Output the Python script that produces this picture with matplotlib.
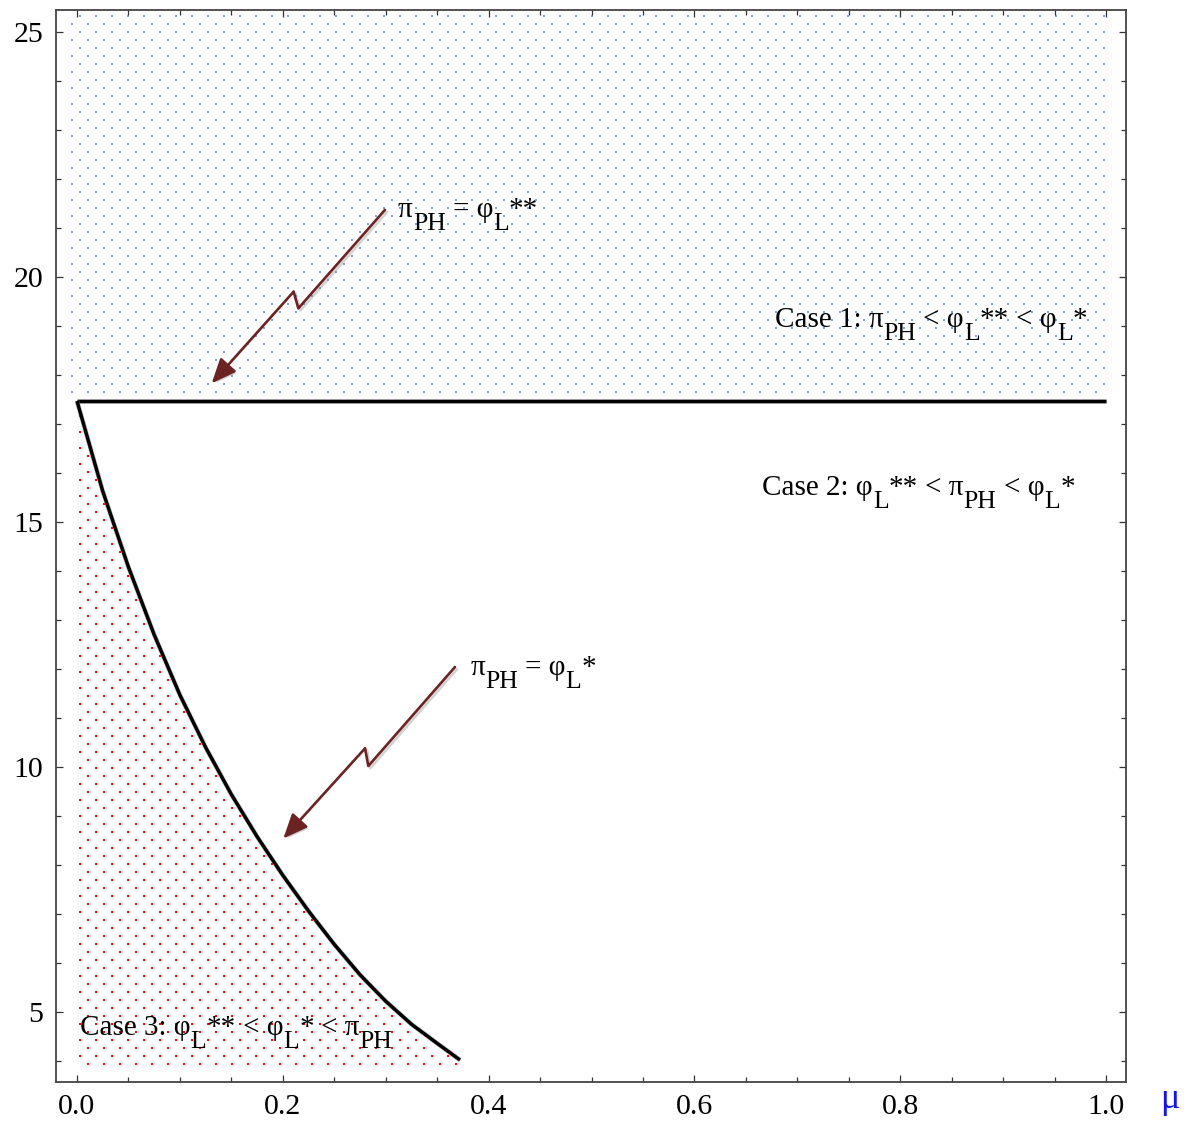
import numpy as np
import matplotlib
matplotlib.use('Agg')
import matplotlib.pyplot as plt
from matplotlib import patheffects as pe
from matplotlib.ticker import MultipleLocator, FixedLocator
from matplotlib.transforms import offset_copy

plt.rcParams['font.family'] = ['Liberation Serif', 'DejaVu Serif']
plt.rcParams['mathtext.fontset'] = 'custom'
plt.rcParams['mathtext.rm'] = 'Liberation Serif'

# ---------------- data ----------------
boundary_mu = [0.0, 1.0]                 # pi_PH = phi_L**  (horizontal)
boundary_val = [17.47, 17.47]

curve_mu = [0.0, 0.025, 0.05, 0.075, 0.1, 0.125, 0.15, 0.175, 0.2, 0.225,
            0.25, 0.275, 0.3, 0.325, 0.35, 0.3722]
curve_val = [17.47, 15.63, 14.08, 12.70, 11.47, 10.40, 9.44, 8.58, 7.79, 7.06,
             6.38, 5.76, 5.22, 4.75, 4.36, 4.02]

arrow1_mu = [0.2993, 0.2151, 0.2105, 0.1309]
arrow1_val = [21.37, 19.36, 19.70, 17.83]
arrow2_mu = [0.3673, 0.2831, 0.2799, 0.2005]
arrow2_val = [12.04, 10.02, 10.38, 8.54]

xticks = [0.0, 0.2, 0.4, 0.6, 0.8, 1.0]
xtick_labels = ['0.0', '0.2', '0.4', '0.6', '0.8', '1.0']
yticks = [5, 10, 15, 20, 25]
ytick_labels = ['5', '10', '15', '20', '25']
xlim = (-0.0204, 1.0194)
ylim = (3.571, 25.449)

label_eq2 = [('π', 0), ('PH', 1), (' = φ', 0), ('L', 1), ('**', 0)]
label_eq1 = [('π', 0), ('PH', 1), (' = φ', 0), ('L', 1), ('*', 0)]
label_case1 = [('Case 1: π', 0), ('PH', 1), (' < φ', 0), ('L', 1), ('**', 0),
               (' < φ', 0), ('L', 1), ('*', 0)]
label_case2 = [('Case 2: φ', 0), ('L', 1), ('**', 0), (' < π', 0), ('PH', 1),
               (' < φ', 0), ('L', 1), ('*', 0)]
label_case3 = [('Case 3: φ', 0), ('L', 1), ('**', 0), (' < φ', 0), ('L', 1),
               ('*', 0), (' < π', 0), ('PH', 1)]

# ---------------- figure ----------------
W, H, DPI = 1190, 1127, 100
fig = plt.figure(figsize=(W / DPI, H / DPI), dpi=DPI)
ax_rect = [56 / W, 45 / H, 1070 / W, 1072 / H]
ax = fig.add_axes(ax_rect)
ax.set_xlim(*xlim)
ax.set_ylim(*ylim)

# dot textures (16 px column spacing, 8 px row spacing, staggered rows)
ax_w_px = ax_rect[2] * W
ax_h_px = ax_rect[3] * H
dx = 16 * (xlim[1] - xlim[0]) / ax_w_px
dy = 8 * (ylim[1] - ylim[0]) / ax_h_px
rows = np.arange(ylim[0] + 0.3 * dy, ylim[1], dy)
gx, gy = [], []
for i, yv in enumerate(rows):
    xs = np.arange(xlim[0] + (i % 2) * dx / 2, xlim[1], dx)
    gx.append(xs)
    gy.append(np.full_like(xs, yv))
gx = np.concatenate(gx)
gy = np.concatenate(gy)

cm = np.array(curve_mu)
cv = np.array(curve_val)
blue_mask = (gx >= -0.006) & (gx <= 1.0) & (gy > boundary_val[0] + 0.08)
curve_at = np.interp(gx, cm, cv, left=np.nan, right=-np.inf)
red_mask = (gx >= -0.006) & (gx <= cm[-1]) & (gy < curve_at - 0.08) & (gy > 3.8)
ax.scatter(gx[blue_mask], gy[blue_mask], s=1.9, marker='s', color='#80a4e2',
           linewidths=0, zorder=1)
ax.scatter(gx[red_mask], gy[red_mask], s=2.6, marker='s', color='#ff0000',
           linewidths=0, zorder=1)

# boundary lines
line_fx = [pe.Stroke(linewidth=3.4, foreground='0.55', alpha=0.5), pe.Normal()]
ax.plot(boundary_mu, boundary_val, color='black', lw=2.5, zorder=3,
        solid_capstyle='butt', path_effects=line_fx)
ax.plot(curve_mu, curve_val, color='black', lw=2.5, zorder=3,
        solid_capstyle='butt', solid_joinstyle='round', path_effects=line_fx)

# lightning arrows
arrow_col = '#6b2323'
shadow = [pe.SimpleLineShadow(offset=(1.5, -1.5), shadow_color='0.5', alpha=0.35),
          pe.Normal()]
for am, av in [(arrow1_mu, arrow1_val), (arrow2_mu, arrow2_val)]:
    ax.plot(am[:3], av[:3], color=arrow_col, lw=1.9, zorder=4,
            solid_joinstyle='round', solid_capstyle='round', path_effects=shadow)
    ax.annotate('', xy=(am[3], av[3]), xytext=(am[2], av[2]), zorder=4,
                arrowprops=dict(arrowstyle='-|>,head_length=0.75,head_width=0.32',
                                mutation_scale=20, color=arrow_col, lw=1.9,
                                shrinkA=0, shrinkB=0,
                                path_effects=[pe.withSimplePatchShadow(
                                    offset=(1.5, -1.5), shadow_rgbFace='0.5',
                                    alpha=0.35)]))

# rich text with sizable subscripts
renderer = fig.canvas.get_renderer()
MAIN, SUB, DROP = 21, 18.5, -9.5


def advance(s, size):
    t1 = fig.text(0, 0, '|' + s + '|', fontsize=size)
    t2 = fig.text(0, 0, '||', fontsize=size)
    w = t1.get_window_extent(renderer).width - t2.get_window_extent(renderer).width
    t1.remove()
    t2.remove()
    return w * 72.0 / fig.dpi


def rich(x, y, pieces):
    off = 0.0
    for s, sub in pieces:
        size = SUB if sub else MAIN
        shift = DROP if sub else 0.0
        lead = len(s) - len(s.lstrip(' '))
        lead_adv = advance(' ' * lead, size) if lead else 0.0
        tr = offset_copy(ax.transData, fig=fig, x=off + lead_adv, y=shift,
                         units='points')
        ax.text(x, y, s.strip(), transform=tr, fontsize=size, va='baseline',
                ha='left', color='black', zorder=5)
        off += advance(s, size)


rich(0.312, 21.22, label_eq2)
rich(0.382, 11.88, label_eq1)
rich(0.678, 18.98, label_case1)
rich(0.666, 15.55, label_case2)
rich(0.003, 4.53, label_case3)

# axes styling
for sp in ax.spines.values():
    sp.set_color('#444444')
    sp.set_linewidth(1.3)
ax.xaxis.set_major_locator(FixedLocator(xticks))
ax.set_xticklabels(xtick_labels)
ax.yaxis.set_major_locator(FixedLocator(yticks))
ax.set_yticklabels(ytick_labels)
ax.xaxis.set_minor_locator(MultipleLocator(0.05))
ax.yaxis.set_minor_locator(MultipleLocator(1))
ax.tick_params(which='both', direction='in', top=True, right=True,
               color='#333333', width=0.9)
ax.tick_params(which='major', length=5.2, labelsize=21.5, pad=9)
ax.tick_params(which='minor', length=3.4)
ax.tick_params(axis='y', which='major', pad=9)

ax.text(1.041, -0.024, 'μ', transform=ax.transAxes, fontsize=26,
        color='#1414e6', ha='center', va='baseline')

fig.savefig('out.png', dpi=DPI)
